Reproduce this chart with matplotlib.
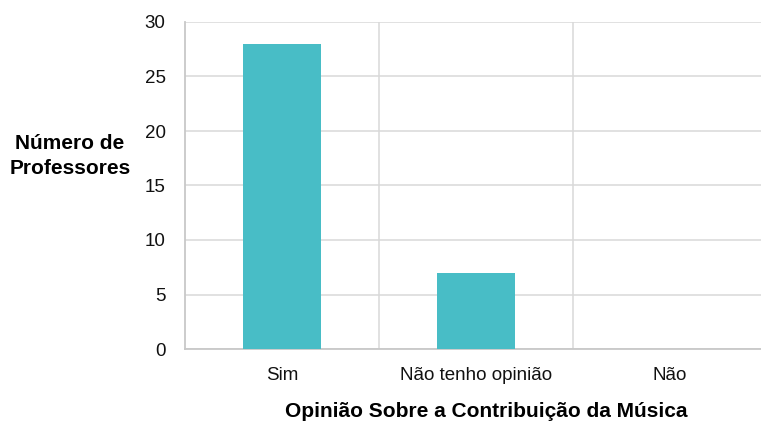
import matplotlib
matplotlib.use('Agg')
import matplotlib.pyplot as plt

plt.rcParams['font.family'] = ['Liberation Sans', 'DejaVu Sans']

categories = ['Sim', 'Não tenho opinião', 'Não']
values = [28, 7, 0]

fig = plt.figure(figsize=(7.61, 4.23), dpi=100)
ax = fig.add_axes([185 / 761, 74 / 423, 582 / 761, 327 / 423])

x = range(len(categories))
ax.bar(x, values, width=0.4, color='#48bdc6', zorder=3)

ax.set_xlim(-0.5, 2.5)
ax.set_ylim(0, 30)
ax.set_yticks(range(0, 31, 5))
ax.set_xticks(list(x))
ax.set_xticklabels(categories)
ax.set_xticks([0.5, 1.5, 2.5], minor=True)

ax.grid(axis='y', which='major', color='#d9d9d9', lw=1.1, zorder=0)
ax.grid(axis='x', which='minor', color='#d9d9d9', lw=1.1, zorder=0)
ax.tick_params(which='both', length=0)
ax.tick_params(axis='y', pad=14, labelsize=13.5, colors='#111111')
ax.tick_params(axis='x', pad=13, labelsize=13.5, colors='#111111')

for s in ['top', 'right']:
    ax.spines[s].set_visible(False)
for s in ['left', 'bottom']:
    ax.spines[s].set_color('#c8c8c8')
    ax.spines[s].set_linewidth(1.3)

fig.text(70 / 761, 1 - 156 / 423, 'Número de\nProfessores', ha='center', va='center',
         fontsize=15, fontweight='bold', linespacing=1.4)
fig.text(486 / 761, 1 - 411 / 423, 'Opinião Sobre a Contribuição da Música', ha='center',
         va='center', fontsize=15, fontweight='bold')

fig.savefig('out.png', dpi=100)
